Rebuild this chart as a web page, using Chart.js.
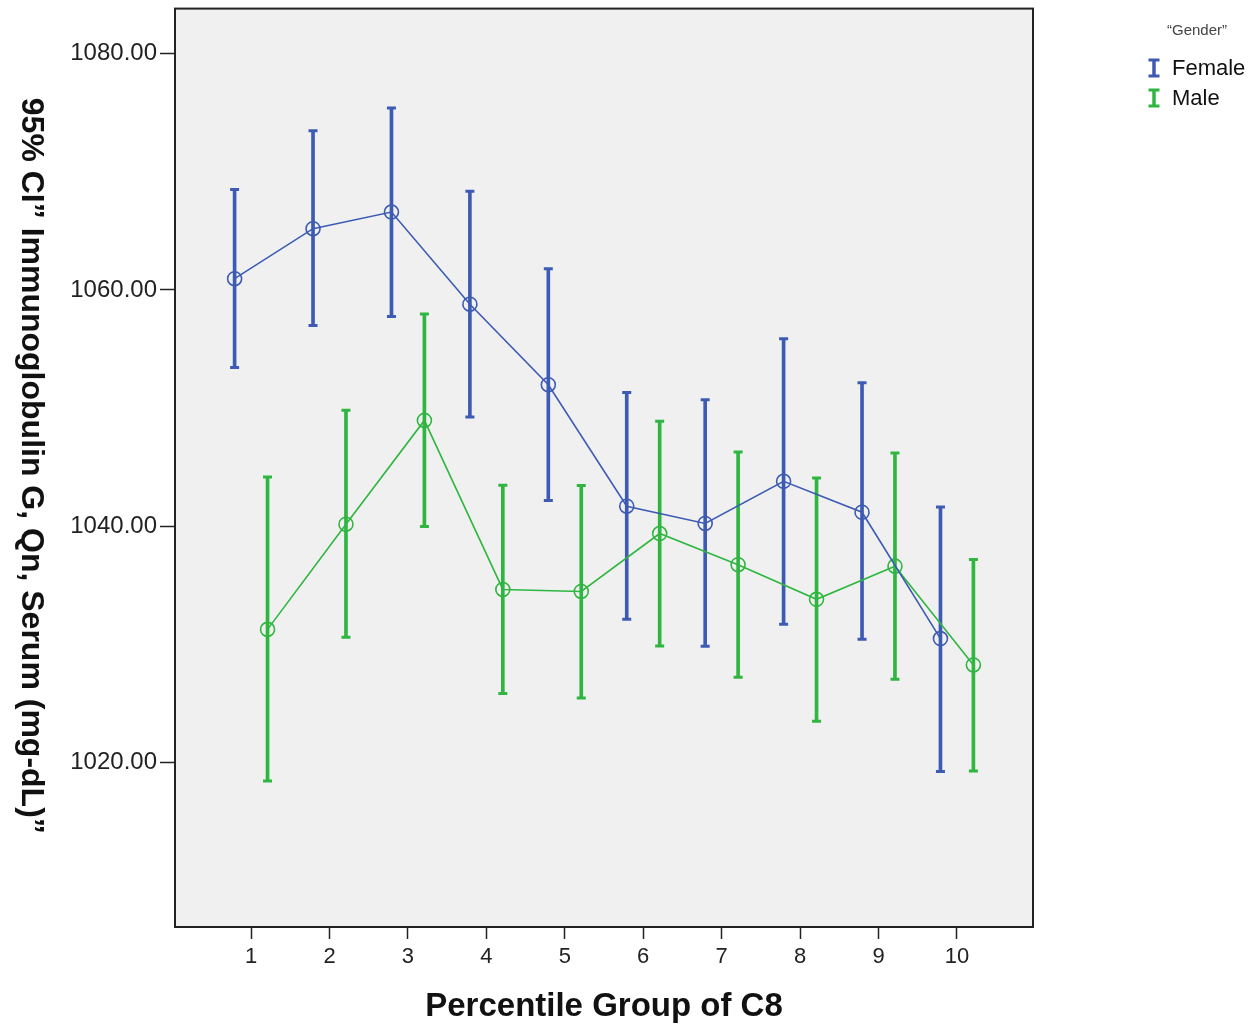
<!DOCTYPE html>
<html>
<head>
<meta charset="utf-8">
<title>95% CI Immunoglobulin G by Percentile Group of C8</title>
<script src="https://cdn.jsdelivr.net/npm/chart.js@4.4.1/dist/chart.umd.min.js"></script>
<style>
  html, body { margin: 0; padding: 0; background: #fff; }
  #wrap { width: 1253px; height: 1027px; }
</style>
</head>
<body>
<div id="wrap"><canvas id="chart" width="1253" height="1027"></canvas></div>
<script>
// Percentile groups on the x axis
const categories = [1, 2, 3, 4, 5, 6, 7, 8, 9, 10];
const tickLabels = ["1", "2", "3", "4", "5", "6", "7", "8", "9", "10"];
const yTicks = [1020, 1040, 1060, 1080];

// Gender groups
const groups = ["Female", "Male"];

// Means and 95% CI bounds (mg-dL)
const femaleMean = [1060.95, 1065.18, 1066.59, 1058.79, 1051.98, 1041.70, 1040.24, 1043.81, 1041.19, 1030.50];
const femaleLow  = [1053.44, 1056.99, 1057.75, 1049.25, 1042.18, 1032.13, 1029.85, 1031.71, 1030.44, 1019.26];
const femaleHigh = [1068.50, 1073.46, 1075.40, 1068.34, 1061.80, 1051.33, 1050.71, 1055.86, 1052.15, 1041.64];

const maleMean = [1031.28, 1040.18, 1048.96, 1034.66, 1034.49, 1039.39, 1036.75, 1033.82, 1036.63, 1028.27];
const maleLow  = [1018.45, 1030.61, 1039.98, 1025.85, 1025.48, 1029.88, 1027.23, 1023.51, 1027.06, 1019.29];
const maleHigh = [1044.18, 1049.81, 1057.97, 1043.47, 1043.45, 1048.88, 1046.29, 1044.09, 1046.20, 1037.20];

const yTitle = "95% CI\u201D Immunoglobulin G, Qn, Serum (mg-dL)\u201D";
const xTitle = "Percentile Group of C8";
const legendTitle = "\u201CGender\u201D";

const BLUE = "#3d5bb3";
const GREEN = "#2fb640";
const colors = [BLUE, GREEN];
const dodge = 0.21; // sideways shift of each gender within a group

Chart.defaults.font.family = "'Liberation Sans', Arial, sans-serif";
Chart.defaults.color = "#222";

// Build the three datasets (whisker, caps, mean line) for one group
function groupDatasets(label, color, shift, mean, low, high) {
  const xs = categories.map((c) => c + shift);
  return [
    {
      type: "bar",
      label: label + " CI",
      data: xs.map((x, i) => ({ x: x, y: [low[i], high[i]] })),
      backgroundColor: color,
      borderWidth: 0,
      barThickness: 3,
      grouped: false,
      order: 3,
    },
    {
      type: "scatter",
      label: label + " caps",
      data: xs.map((x, i) => ({ x: x, y: low[i] }))
        .concat(xs.map((x, i) => ({ x: x, y: high[i] }))),
      pointStyle: "line",
      pointRadius: 4.5,
      pointBorderWidth: 3,
      borderColor: color,
      showLine: false,
      order: 2,
    },
    {
      type: "scatter",
      label: label,
      data: xs.map((x, i) => ({ x: x, y: mean[i] })),
      showLine: true,
      borderColor: color,
      borderWidth: 1.6,
      pointStyle: "circle",
      pointRadius: 7,
      pointBorderWidth: 1.6,
      pointBorderColor: color,
      pointBackgroundColor: "rgba(0,0,0,0)",
      order: 1,
    },
  ];
}

// Grey plot background, black frame and the rotated y title
const plotFrame = {
  id: "plotFrame",
  beforeDraw(chart) {
    const { ctx, chartArea: a } = chart;
    ctx.save();
    ctx.fillStyle = "#f0f0f0";
    ctx.fillRect(a.left, a.top, a.right - a.left, a.bottom - a.top);
    ctx.restore();
  },
  afterDraw(chart) {
    const { ctx, chartArea: a } = chart;
    ctx.save();
    ctx.strokeStyle = "#222";
    ctx.lineWidth = 2;
    ctx.strokeRect(a.left, a.top, a.right - a.left, a.bottom - a.top);

    // y title reads top to bottom
    ctx.translate(22, (a.top + a.bottom) / 2 - 2);
    ctx.rotate(Math.PI / 2);
    ctx.fillStyle = "#111";
    ctx.font = "bold 32px " + Chart.defaults.font.family;
    ctx.textAlign = "center";
    ctx.textBaseline = "alphabetic";
    ctx.fillText(yTitle, 0, 0);
    ctx.restore();
  },
};

// SPSS style legend with error bar icons
const gLegend = {
  id: "gLegend",
  afterDraw(chart) {
    const ctx = chart.ctx;
    const font = Chart.defaults.font.family;
    ctx.save();
    ctx.fillStyle = "#444";
    ctx.font = "15px " + font;
    ctx.textAlign = "center";
    ctx.textBaseline = "middle";
    ctx.fillText(legendTitle, 1197, 31);

    groups.forEach((g, i) => {
      const cy = 68 + i * 30;
      const cx = 1154;
      ctx.strokeStyle = colors[i];
      ctx.lineWidth = 3.5;
      ctx.beginPath();
      ctx.moveTo(cx, cy - 8);
      ctx.lineTo(cx, cy + 8);
      ctx.stroke();
      ctx.lineWidth = 3;
      ctx.beginPath();
      ctx.moveTo(cx - 5.5, cy - 8);
      ctx.lineTo(cx + 5.5, cy - 8);
      ctx.moveTo(cx - 5.5, cy + 8);
      ctx.lineTo(cx + 5.5, cy + 8);
      ctx.stroke();

      ctx.fillStyle = "#111";
      ctx.font = "22px " + font;
      ctx.textAlign = "left";
      ctx.fillText(g, 1172, cy + 1);
    });
    ctx.restore();
  },
};

const ctx = document.getElementById("chart").getContext("2d");
const chart = new Chart(ctx, {
  type: "scatter",
  data: {
    datasets: groupDatasets(groups[0], BLUE, -dodge, femaleMean, femaleLow, femaleHigh)
      .concat(groupDatasets(groups[1], GREEN, dodge, maleMean, maleLow, maleHigh)),
  },
  options: {
    responsive: false,
    animation: false,
    layout: { padding: { top: 8, right: 220, left: 0, bottom: 0 } },
    plugins: {
      legend: { display: false },
      tooltip: { enabled: false },
    },
    scales: {
      x: {
        type: "linear",
        min: 0.03,
        max: 10.97,
        offset: false,
        afterBuildTicks: (axis) => {
          axis.ticks = categories.map((v) => ({ value: v }));
        },
        afterFit: (axis) => {
          axis.height = 100;
          axis.paddingLeft = 0;
          axis.paddingRight = 0;
        },
        ticks: {
          callback: (v, i) => tickLabels[i],
          font: { size: 22 },
          color: "#222",
          padding: 5,
          autoSkip: false,
          maxRotation: 0,
        },
        grid: {
          offset: false,
          drawOnChartArea: false,
          drawTicks: true,
          tickLength: 12,
          tickColor: "#222",
          tickWidth: 1.5,
        },
        border: { display: false },
        title: {
          display: true,
          text: xTitle,
          font: { size: 33, weight: "bold" },
          color: "#111",
          padding: { top: 0, bottom: 0 },
        },
      },
      y: {
        type: "linear",
        min: 1006.1,
        max: 1083.8,
        afterBuildTicks: (axis) => {
          axis.ticks = yTicks.map((v) => ({ value: v }));
        },
        afterFit: (axis) => {
          axis.width = 175;
          axis.paddingTop = 0;
          axis.paddingBottom = 0;
        },
        ticks: {
          callback: (v) => Number(v).toFixed(2),
          font: { size: 24 },
          color: "#222",
          padding: 3,
        },
        grid: {
          offset: false,
          drawOnChartArea: false,
          drawTicks: true,
          tickLength: 15,
          tickColor: "#222",
          tickWidth: 1.5,
        },
        border: { display: false },
        title: { display: false },
      },
    },
  },
  plugins: [plotFrame, gLegend],
});
</script>
</body>
</html>
